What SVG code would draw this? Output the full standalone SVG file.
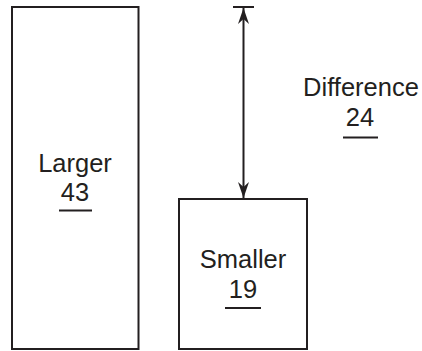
<svg xmlns="http://www.w3.org/2000/svg" width="422" height="351" viewBox="0 0 422 351">
<defs>
<style>
.box{fill:#fff;stroke:#231f20;stroke-width:2}
.t{font-family:"Liberation Sans",Arial,Helvetica,sans-serif;font-size:25.5px;fill:#231f20;text-anchor:middle}
.ul{stroke:#231f20;stroke-width:2}
.ln{stroke:#231f20;stroke-width:2;fill:none}
</style>
<marker id="ah" markerUnits="userSpaceOnUse" markerWidth="20" markerHeight="14" viewBox="-17 -7 18 14" refX="0" refY="0" orient="auto-start-reverse">
<path d="M0,0 L-16,-5.5 L-11,0 L-16,5.5 Z" fill="#231f20"/>
</marker>
</defs>
<g id="larger">
<rect class="box" x="12" y="7" width="126.5" height="342"/>
<text class="t" x="75" y="172">Larger</text>
<text class="t" x="75" y="201">43</text>
<line class="ul" x1="59" y1="210.5" x2="92" y2="210.5"/>
</g>
<g id="smaller">
<rect class="box" x="179" y="199" width="128" height="150"/>
<text class="t" x="243" y="268">Smaller</text>
<text class="t" x="243" y="298">19</text>
<line class="ul" x1="225" y1="308" x2="261" y2="308"/>
</g>
<g id="difference">
<text class="t" x="361" y="96">Difference</text>
<text class="t" x="360" y="126">24</text>
<line class="ul" x1="343" y1="137.5" x2="378" y2="137.5"/>
</g>
<g id="connectors">
<line class="ln" x1="233" y1="7" x2="254" y2="7"/>
<line class="ln" x1="233" y1="199" x2="254" y2="199" stroke-width="3"/>
<line class="ln" x1="243.5" y1="8" x2="243.5" y2="198" marker-start="url(#ah)" marker-end="url(#ah)"/>
</g>
</svg>
